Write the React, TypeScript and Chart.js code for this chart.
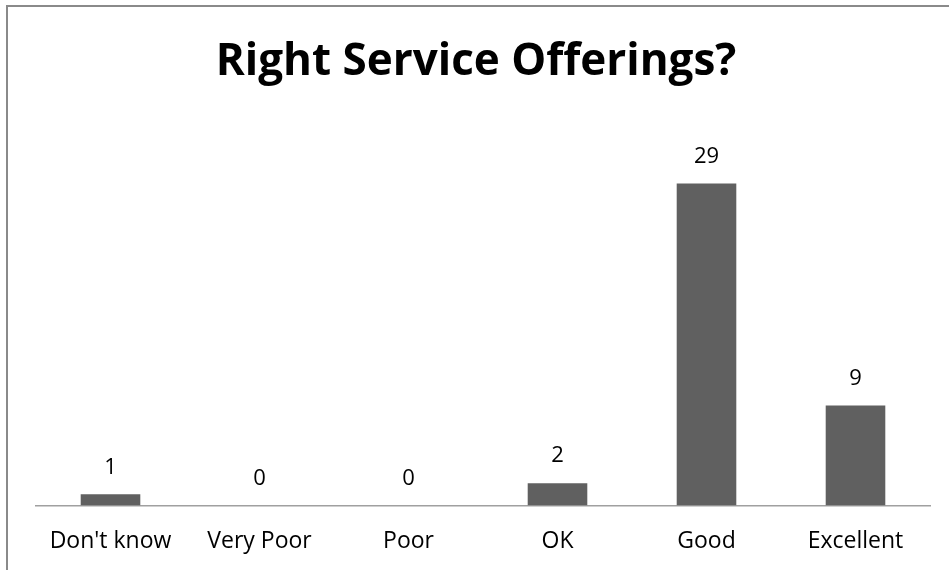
import React, { useEffect, useRef } from "react";
import { Chart, registerables } from "chart.js";

Chart.register(...registerables);

const categories = ["Don't know", "Very Poor", "Poor", "OK", "Good", "Excellent"];
const counts = [1, 0, 0, 2, 29, 9];
const titleText = "Right Service Offerings?";

const FONT = "'Open Sans', 'Noto Sans', sans-serif";

const framePlugin = {
  id: "frame",
  beforeDraw(chart: any) {
    const ctx = chart.ctx;
    ctx.save();
    ctx.fillStyle = "#ffffff";
    ctx.fillRect(0, 0, chart.width, chart.height);
    ctx.strokeStyle = "#8a8a8a";
    ctx.lineWidth = 2;
    ctx.strokeRect(7, 6, chart.width + 50, chart.height + 50);
    ctx.restore();
  },
};

const valueLabels = {
  id: "valueLabels",
  afterDatasetsDraw(chart: any) {
    const ctx = chart.ctx;
    const meta = chart.getDatasetMeta(0);
    const data = chart.data.datasets[0].data;
    ctx.save();
    ctx.fillStyle = "#000000";
    ctx.font = `22px ${FONT}`;
    ctx.textAlign = "center";
    ctx.textBaseline = "middle";
    meta.data.forEach((bar: any, i: number) => {
      ctx.fillText(String(data[i]), bar.x, bar.y - 27);
    });
    ctx.restore();
  },
};

export default function App() {
  const ref = useRef<HTMLCanvasElement | null>(null);
  useEffect(() => {
    document.body.style.margin = "0";
    const chart = new Chart(ref.current as HTMLCanvasElement, {
      type: "bar",
      data: {
        labels: categories,
        datasets: [
          {
            data: counts,
            backgroundColor: "#606060",
            barPercentage: 0.4,
            categoryPercentage: 1,
          },
        ],
      },
      options: {
        animation: false,
        responsive: false,
        layout: { padding: { left: 22, right: 19, top: 0, bottom: -7 } },
        plugins: {
          legend: { display: false },
          tooltip: { enabled: false },
          title: {
            display: true,
            text: titleText,
            color: "#000000",
            font: { family: FONT, size: 44, weight: "bold", lineHeight: 1.2 },
            padding: { top: 36, bottom: 28 },
          },
        },
        scales: {
          x: {
            grid: { display: true, drawOnChartArea: false, drawTicks: false },
            border: { display: true, color: "#a0a0a0", width: 1.5 },
            ticks: {
              color: "#000000",
              font: { family: FONT, size: 23, lineHeight: 1.2 },
              padding: 22,
              maxRotation: 0,
            },
          },
          y: {
            display: true,
            min: 0,
            max: 35,
            grid: { display: false },
            border: { display: false },
            ticks: { display: false },
            afterFit(scale: any) {
              scale.width = 14;
            },
          },
        },
      },
      plugins: [framePlugin, valueLabels],
    });
    return () => chart.destroy();
  }, []);
  return (
    <div style={{ position: "absolute", left: 0, top: 0, width: 949, height: 570 }}>
      <canvas ref={ref} width={949} height={570} />
    </div>
  );
}
